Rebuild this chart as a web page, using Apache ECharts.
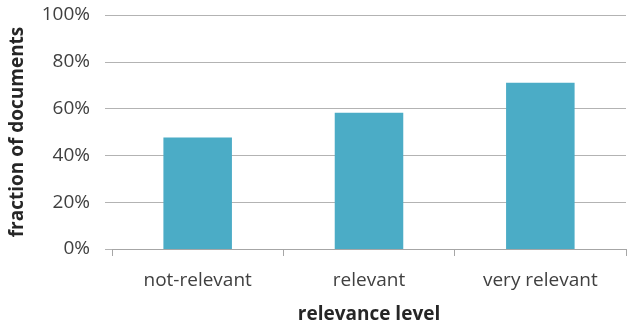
<!DOCTYPE html>
<html>
<head>
<meta charset="utf-8">
<script src="https://cdn.jsdelivr.net/npm/echarts@6/dist/echarts.min.js"></script>
<style>
  html, body { margin: 0; padding: 0; background: #fff; }
  #chart { width: 633px; height: 333px; }
</style>
</head>
<body>
<div id="chart"></div>
<script>
const categories = ["not-relevant", "relevant", "very relevant"]
const fractions = [47.6, 58.2, 71.0]
const yTicks = [0, 20, 40, 60, 80, 100]

const font = "'Open Sans', sans-serif"
let myChart = echarts.init(document.getElementById("chart"))
myChart.setOption({
    animation: false,
    grid: { left: 110, right: 7, top: 15, bottom: 84 },
    xAxis: {
        type: "category",
        data: categories,
        name: "relevance level",
        nameLocation: "middle",
        nameGap: 56,
        nameTextStyle: { fontFamily: font, fontSize: 19, fontWeight: "bold", color: "#262626" },
        axisLine: { lineStyle: { color: "#a6a6a6", width: 1 } },
        axisTick: { show: true, length: 7, lineStyle: { color: "#a6a6a6" } },
        axisLabel: { fontFamily: font, fontSize: 19, color: "#404040", margin: 22 }
    },
    yAxis: {
        type: "value",
        min: yTicks[0],
        max: yTicks[yTicks.length - 1],
        interval: 20,
        name: "fraction of documents",
        nameLocation: "middle",
        nameGap: 85,
        nameRotate: 90,
        nameTextStyle: { fontFamily: font, fontSize: 19, fontWeight: "bold", color: "#262626" },
        axisLine: { show: false },
        axisTick: { show: true, length: 7, lineStyle: { color: "#b3b3b3" } },
        axisLabel: { fontFamily: font, fontSize: 19, color: "#404040", margin: 22, formatter: "{value}%" },
        splitLine: { lineStyle: { color: "#b3b3b3", width: 1 } }
    },
    series: [{
        type: "bar",
        data: fractions,
        barWidth: "40%",
        itemStyle: { color: "#4bacc6" }
    }]
})
</script>
</body>
</html>
